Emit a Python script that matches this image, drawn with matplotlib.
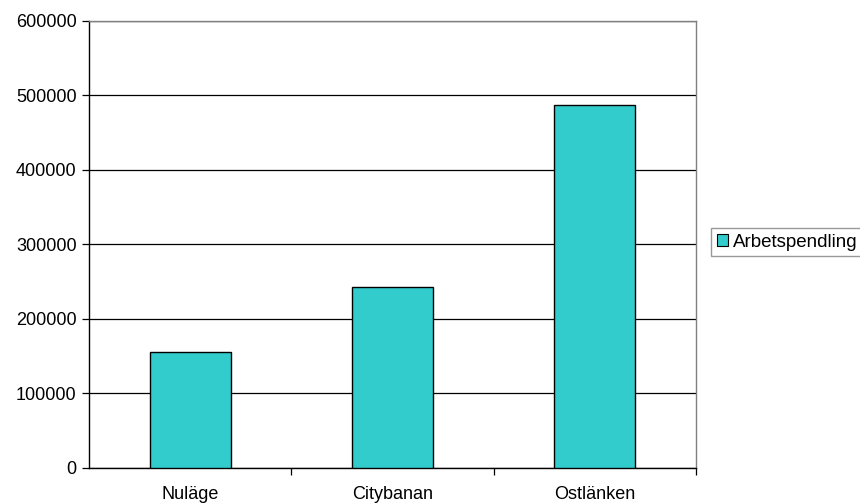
import matplotlib
matplotlib.use("Agg")
import matplotlib.pyplot as plt
from matplotlib.patches import Patch

categories = ["Nuläge", "Citybanan", "Ostlänken"]
values = [156000, 243000, 487000]
series_name = "Arbetspendling"
yticks = [0, 100000, 200000, 300000, 400000, 500000, 600000]

plt.rcParams['font.family'] = ['Liberation Sans', 'DejaVu Sans']

W, H = 860, 504
fig = plt.figure(figsize=(W/100, H/100), dpi=100)
ax = fig.add_axes([89/W, 1-468/H, (696-89)/W, (468-20.5)/H])

x = list(range(len(categories)))
ax.bar(x, values, width=0.4, color="#33CCCC", edgecolor="black", linewidth=1.0, zorder=3)

ax.set_xlim(-0.5, len(categories)-0.5)
ax.set_ylim(0, 600000)
ax.set_yticks(yticks)
ax.set_yticklabels([str(v) for v in yticks], fontsize=13)
ax.yaxis.grid(True, color="black", linewidth=0.9, zorder=0)
ax.tick_params(axis='y', direction='out', length=5, width=0.9, pad=4)

ax.set_xticks(x)
ax.set_xticklabels(categories, fontsize=13)
ax.tick_params(axis='x', which='major', length=0, pad=13)
ax.set_xticks([i + 0.5 for i in x], minor=True)
ax.tick_params(axis='x', which='minor', direction='out', length=5, width=0.9)

ax.spines['left'].set_color('black')
ax.spines['bottom'].set_color('black')
ax.spines['top'].set_color('#808080')
ax.spines['right'].set_color('#808080')
for s in ax.spines.values():
    s.set_linewidth(1.0)

handle = Patch(facecolor="#33CCCC", edgecolor="black", linewidth=0.8)
leg = fig.legend([handle], [series_name], loc='upper left',
                 bbox_to_anchor=(711/W, 1-228/H), fontsize=13.5,
                 frameon=True, fancybox=False, edgecolor='#808080',
                 handlelength=0.6, handleheight=0.6, handletextpad=0.25,
                 borderpad=0.3, borderaxespad=0)
leg.get_frame().set_linewidth(1.0)

fig.savefig("out.png", dpi=100)
